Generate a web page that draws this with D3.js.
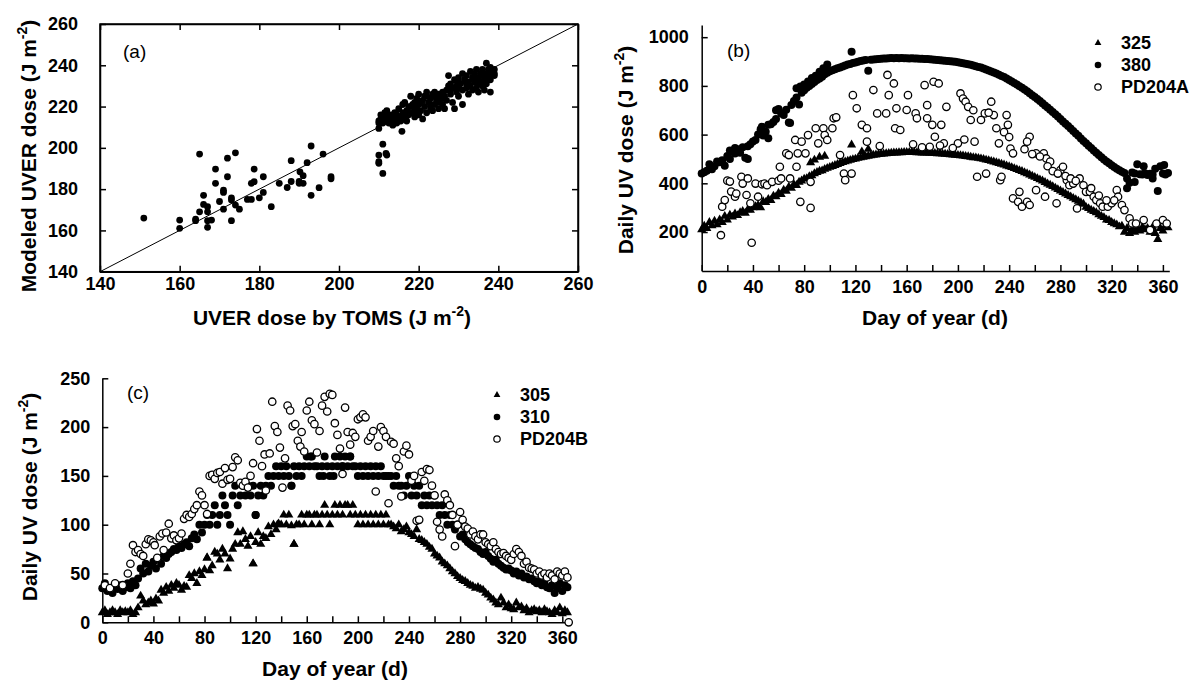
<!DOCTYPE html>
<html>
<head>
<meta charset="utf-8">
<script src="https://cdn.jsdelivr.net/npm/d3@7"></script>
<style>
  body { margin: 0; background: #fff; }
  svg text { font-family: "Liberation Sans", Arial, sans-serif; }
</style>
</head>
<body>
<svg id="chart" width="1194" height="688"></svg>
<script>
// ---------- data ----------
// (a) TOMS vs modeled UVER dose, [toms, modeled]
const uverLow = [[151,166],[160,165],[160,161],[164,165.5],[164,164.7],[165,197],[165,169],[166,177],[166,172.6],
  [167,171.5],[167,169],[167,164.7],[167,161.5],[168,165],[169,189.7],[169,182.8],[170,174],[171,179.5],[171,178.4],
  [171,170.3],[172,195],[172,186],[173,164.7],[173,175.8],[173,174.7],[174,197.6],[174,172.3],[175,170.3],[177,175],
  [178,175],[178,182.8],[178.7,183.6],[178.7,189.7],[180,175.8],[181,178.4],[181,186],[183,171.5],[185,182.8],[187,180.8],
  [188,193.8],[188,183.7],[190,183.7],[190,182.8],[190.2,188.4],[191,186.5],[191,182.8],[192,192.8],[193,200.9],[193,177],
  [195,180.7],[196,197],[198,185],[198,186]];
const uverHigh = [[210,209.4],[211,201.8],[210,196.5],[210,193.3],[210,192.5],[211.8,197.3],[212,196.5],[211,187.6],
  [210,212],[210,213],[210.5,214],[210.5,216],[211,212],[211,215],[211.5,217],[211.5,213],[212,214],[212,218],[212.5,212],
  [213,213],[213,216],[213.5,211],[214,214],[214,217],[214.5,212],[215,215],[215,219],[215.5,213],[215.8,208],[216,216],
  [216,221],[216.5,214],[216.5,222],[217,218],[217,213],[217.5,216],[218,220],[218,225],[218.5,217],[219,215],[219,222],
  [219.5,219],[219.5,224],[220,216],[220,221],[220,226],[220.5,218],[221,214],[221,223],[221.5,220],[222,217],[222,225],
  [222,227],[222.5,222],[223,219],[223,224],[223.5,218],[223.5,226],[224,221],[224,225],[224.5,223],[225,219],[225,226],
  [225,222],[225.5,224],[226,221],[226,227],[226.5,219],[226.5,225],[227,228],[227,223],[227.5,230],[227.5,235],[228,226],
  [228,231],[228.5,222],[228.5,229],[229,219],[229,233],[229.5,227],[229.5,230],[230,225],[230,229],[230,234],[230.5,231],
  [231,221],[231,236],[231,228],[231.5,233],[232,229],[232,235],[232.5,226],[232.5,232],[233,230],[233,237],[233.5,228],
  [233.5,234],[234,232],[234,236],[234.5,229],[234.5,238],[235,231],[235,234],[235,227],[235.5,236],[235.5,232],[236,230],
  [236,235],[236,238],[236.5,233],[236.5,228],[237,236],[237,241],[237,231],[237.5,234],[237.5,238],[238,227],[238,236],
  [238,233],[238.5,237],[239,236],[239,238],[239,235],[212,215],[213.5,215],[214.5,216],[216,217],[217.5,220],[218.5,221],
  [219,218],[220.5,222],[221.5,225],[223,221],[224,227],[226,224],[228,228],[230,232],[232,231],[234,233],[236,236],[238,239]];
const aTicks = [140, 160, 180, 200, 220, 240, 260];

// (b) daily doses, one value every second day from day 0
const b325 = [
  210,225,215,240,226,245,230,250,240,265, 250,270,262,275,268,280,285,278,292,290,
  300,305,310,300,325,322,335,330,348,345, 360,355,372,368,385,380,395,392,405,410,
  418,420,428,432,440,445,450,452,458,462, 466,470,474,478,482,486,489,492,495,498,
  500,503,505,508,510,512,514,516,517,519, 520,521,522,523,524,525,525,526,526,527,
  527,527,528,527,526,526,525,525,525,524, 524,523,522,522,521,520,519,518,517,516,
  515,514,513,511,510,508,506,505,503,501, 499,496,494,491,488,485,482,479,476,472,
  469,465,461,457,453,449,444,440,435,430, 425,420,415,410,404,398,393,387,381,375,
  369,363,357,351,345,339,333,327,321,315, 302,297,290,285,280,272,265,260,250,248,
  240,235,230,222,225,200,215,195,210,200, 215,205,220,210,215,200,220,195,170,215,
  205,225,218];
const b380 = [
  440,445,452,478,458,470,490,486,495,472, 512,500,530,522,540,526,548,505,552,560,
  572,578,600,622,596,612,585,642,652,664, 700,688,680,702,650,722,738,752,724,772,
  782,792,800,808,816,824,830,838,848,854, 860,864,868,872,876,880,884,888,890,894,
  896,899,902,904,906,862,907,908,909,910, 911,912,912,913,914,913,914,913,914,913,
  913,912,913,912,912,911,911,910,910,909, 908,907,906,905,904,903,902,901,900,899,
  897,895,893,891,889,887,884,881,878,875, 871,867,863,859,855,851,846,841,836,830,
  824,818,812,806,799,792,785,778,770,762, 754,746,738,729,720,711,702,693,684,674,
  664,654,645,635,625,615,605,595,584,574, 564,554,545,535,525,516,507,498,490,482,
  474,467,460,454,448,442,420,402,444,440, 478,437,436,441,434,439,436,460,368,470,
  440,436,442];
const b325Extra = [[85,485],[88,496],[92,508],[96,512],[117,558],[130,540],[125,530]];
const b380Extra = [[74,790],[77,798],[80,806],[83,818],[86,832],[89,842],[92,858],[95,872],[98,888],[117,940],
  [69,648],[47,632],[52,640],[58,700],[60,705],[36,500],[22,535],[26,545],[332,380],[338,405],[345,470],[352,420],[361,475]];
const bPD204A = [[15,187],[16,304],[18,331],[20,411],[22,407],[23,366],[26,345],[27,358],[31,427],[32,399],[35,352],
  [36,420],[38,318],[39,156],[42,399],[44,345],[47,396],[49,399],[51,392],[55,406],[60,411],[61,468],[62,420],[66,523],
  [68,516],[69,420],[73,578],[74,468],[75,523],[77,324],[78,571],[81,523],[83,598],[85,406],[85,299],[89,626],[91,564],
  [95,626],[96,598],[98,578],[102,626],[103,667],[105,671],[108,516],[111,440],[112,413],[117,440],[118,762],[121,708],
  [125,640],[129,626],[129,571],[134,783],[137,687],[139,553],[144,687],[145,845],[146,762],[150,810],[151,626],[152,708],
  [155,619],[160,701],[161,762],[167,687],[168,667],[174,803],[176,721],[176,667],[180,640],[181,817],[185,810],[191,714],
  [187,640],[182,591],[178,550],[189,564],[200,564],[202,769],[204,748],[206,735],[208,714],[213,571],[215,427],[221,687],
  [222,440],[226,735],[228,680],[230,626],[232,564],[233,413],[234,427],[238,680],[239,640],[241,543],[243,523],[243,338],
  [247,324],[248,365],[250,304],[254,324],[256,311],[256,591],[254,571],[261,523],[261,372],[268,345],[267,523],[269,502],
  [272,489],[277,318],[280,454],[282,468],[285,413],[287,392],[290,399],[293,297],[295,420],[298,392],[300,365],[303,365],
  [306,345],[308,331],[311,318],[313,304],[317,304],[320,318],[324,372],[325,345],[328,311],[330,290],[334,256],[336,235],
  [339,235],[345,249],[350,208],[355,235],[360,249],[363,235],[165,560],[172,548],[186,555],[196,545],[205,580],[210,660],
  [212,700],[218,660],[224,690],[236,610],[240,590],[252,540],[258,520],[264,510],[270,470],[274,450],[278,440],[284,430],
  [288,420],[292,410],[304,380],[310,350],[316,330],[322,330]];

// (c) daily doses, one value every second day from day 0
const c305 = [
  10,12,8,10,12,10,8,12,10,11, 10,12,8,10,15,27,22,18,20,22,
  19,24,22,33,30,36,32,38,35,40, 38,33,37,36,48,45,50,40,52,48,
  54,66,53,58,72,70,64,75,70,55, 65,75,80,92,80,93,85,78,88,60,
  82,92,80,88,86,98,90,100,95,101, 100,110,100,110,99,80,100,100,110,100,
  110,110,100,110,110,100,110,120,110,100, 110,120,110,120,110,120,120,110,120,110,
  100,110,100,110,100,110,100,110,100,110, 100,110,100,100,98,96,100,93,95,98,
  92,90,88,95,85,84,82,80,77,75, 70,68,66,62,60,58,55,52,50,47,
  45,43,42,40,38,37,35,36,34,33, 30,28,25,23,20,18,25,20,15,18,
  14,13,20,15,16,12,14,10,12,13, 11,12,10,13,11,10,8,12,10,15,
  9,12,10];
const c310 = [
  35,40,32,35,30,36,34,38,32,36, 40,35,42,38,45,55,50,60,52,58,
  62,55,65,60,68,66,70,72,75,74, 78,76,80,82,78,86,90,85,100,92,
  100,110,100,110,120,100,110,130,120,110, 100,130,140,120,130,140,130,140,130,140,
  110,130,140,130,140,150,140,150,160,150, 160,150,160,150,140,160,150,160,150,160,
  170,160,170,160,160,150,160,170,160,150, 160,170,160,170,160,170,160,170,160,160,
  150,160,150,160,150,160,150,160,150,160, 150,150,150,150,140,150,140,140,130,140,
  150,130,140,130,140,120,130,120,130,120, 130,120,110,120,110,100,110,100,95,100,
  88,90,85,82,80,78,76,75,72,70, 72,68,65,62,64,60,58,56,54,55,
  53,50,52,48,50,46,47,44,45,42, 40,42,38,40,36,35,38,30,35,40,
  32,38,36];
const c305Extra = [[150,80],[118,60],[82,66],[137,100]];
const c310Extra = [[148,140],[163,170],[173,150],[181,150],[194,170],[188,160],[120,110]];
const cPD204B = [[2,38],[6,35],[10,40],[16,38],[20,50],[22,60],[24,79],[26,72],[28,74],[30,70],[32,68],[34,80],[36,85],
  [38,84],[40,82],[41,79],[43,66],[45,88],[47,91],[48,74],[50,92],[52,101],[54,86],[56,89],[58,84],[60,86],[62,91],[64,106],
  [66,110],[68,108],[70,111],[72,116],[74,120],[76,134],[78,130],[80,120],[82,111],[84,150],[86,151],[88,147],[90,153],
  [92,154],[94,142],[96,158],[98,146],[100,147],[102,159],[104,169],[106,166],[108,143],[110,140],[112,144],[114,138],
  [116,150],[118,163],[121,198],[123,186],[125,160],[127,172],[128,135],[131,173],[133,226],[135,201],[137,195],[139,179],
  [141,138],[143,168],[145,222],[147,217],[149,201],[151,203],[153,186],[155,180],[156,195],[158,175],[160,217],[162,226],
  [164,207],[166,203],[168,174],[170,196],[172,222],[174,231],[176,216],[178,234],[180,233],[182,204],[184,192],[186,178],
  [188,152],[190,220],[192,195],[194,182],[196,194],[198,190],[200,208],[202,210],[204,213],[206,210],[208,186],[210,190],
  [212,196],[214,134],[216,180],[218,200],[220,196],[222,190],[224,122],[226,185],[228,183],[230,168],[232,160],[234,129],
  [236,175],[238,181],[240,172],[242,145],[244,150],[246,104],[248,105],[250,154],[252,145],[254,157],[256,156],[258,140],
  [260,130],[262,103],[264,95],[266,88],[268,131],[270,125],[272,120],[274,110],[276,78],[278,100],[280,113],[282,105],
  [284,98],[286,96],[288,90],[290,93],[292,88],[294,85],[296,90],[298,90],[300,82],[302,80],[304,78],[306,82],[308,75],
  [310,72],[312,70],[314,71],[316,68],[318,66],[320,64],[322,70],[324,75],[326,72],[328,68],[330,60],[332,62],[334,56],
  [336,55],[338,54],[340,50],[342,52],[344,48],[346,50],[348,46],[350,50],[352,48],[354,44],[356,52],[358,50],[360,48],
  [362,52],[364,46],[365,0]];

const dayTicks = [0,20,40,60,80,100,120,140,160,180,200,220,240,260,280,300,320,340,360];
const bTicks = [200, 400, 600, 800, 1000];
const cTicks = [0, 50, 100, 150, 200, 250];

// ---------- drawing ----------
const svg = d3.select("#chart");
const tri = d3.symbol(d3.symbolTriangle, 36);
const triSmall = d3.symbol(d3.symbolTriangle, 20);
const plain = d3.format("d");

// every-second-day arrays -> [day, value]
const byDay = (vals) => vals.map((v, i) => [i * 2, v]);

function styleAxis(g) {
  g.attr("font-family", null).attr("font-size", null);
  g.selectAll("path, line").attr("stroke", "#000").attr("stroke-width", 1.5);
  g.selectAll("text").attr("fill", "#000").style("font-size", "18px").style("font-weight", "bold");
}

function yTitle(x, y, label) {
  const t = svg.append("text")
    .attr("transform", `translate(${x},${y}) rotate(-90)`)
    .attr("text-anchor", "middle")
    .style("font-size", "21px").style("font-weight", "bold");
  t.append("tspan").text(label + " (J m");
  t.append("tspan").attr("dy", -9).style("font-size", "14px").text("-2");
  t.append("tspan").attr("dy", 9).text(")");
}

function xTitle(x, y, label, sup) {
  const t = svg.append("text").attr("x", x).attr("y", y)
    .attr("text-anchor", "middle")
    .style("font-size", "21px").style("font-weight", "bold");
  if (sup) {
    t.append("tspan").text(label + " (J m");
    t.append("tspan").attr("dy", -9).style("font-size", "14px").text("-2");
    t.append("tspan").attr("dy", 9).text(")");
  } else {
    t.text(label);
  }
}

function panelTag(x, y, s) {
  svg.append("text").attr("x", x).attr("y", y).style("font-size", "19px").text(s);
}

function drawTri(g, pts, x, y) {
  g.selectAll(null).data(pts).join("path")
    .attr("d", tri)
    .attr("transform", d => `translate(${x(d[0])},${y(d[1])})`)
    .attr("fill", "#000");
}
function drawDot(g, pts, x, y) {
  g.selectAll(null).data(pts).join("circle")
    .attr("cx", d => x(d[0])).attr("cy", d => y(d[1]))
    .attr("r", 4).attr("fill", "#000");
}
function drawRing(g, pts, x, y) {
  g.selectAll(null).data(pts).join("circle")
    .attr("cx", d => x(d[0])).attr("cy", d => y(d[1]))
    .attr("r", 3.7).attr("fill", "#fff").attr("stroke", "#000").attr("stroke-width", 1.3);
}

function legend(x, y0, names) {
  const g = svg.append("g");
  names.forEach((n, i) => {
    const y = y0 + i * 22;
    if (i === 0) g.append("path").attr("d", triSmall).attr("transform", `translate(${x},${y})`).attr("fill", "#000");
    if (i === 1) g.append("circle").attr("cx", x).attr("cy", y).attr("r", 3.3).attr("fill", "#000");
    if (i === 2) g.append("circle").attr("cx", x).attr("cy", y).attr("r", 3.2).attr("fill", "#fff")
      .attr("stroke", "#000").attr("stroke-width", 1.2);
    g.append("text").attr("x", x + 23).attr("y", y).attr("dy", "0.36em")
      .style("font-size", "18px").style("font-weight", "bold").text(n);
  });
}

// ----- panel (a) -----
const xa = d3.scaleLinear().domain([140, 260]).range([100, 578]);
const ya = d3.scaleLinear().domain([140, 260]).range([271.7, 24]);

svg.append("rect").attr("x", xa(140)).attr("y", ya(260))
  .attr("width", xa(260) - xa(140)).attr("height", ya(140) - ya(260))
  .attr("fill", "none").attr("stroke", "#000").attr("stroke-width", 1.5);

svg.append("g").attr("transform", `translate(0,${ya(140)})`)
  .call(d3.axisBottom(xa).tickValues(aTicks).tickFormat(plain).tickSize(-6).tickPadding(6).tickSizeOuter(0)).call(styleAxis);
svg.append("g").attr("transform", `translate(0,${ya(260)})`)
  .call(d3.axisTop(xa).tickValues(aTicks).tickSize(-6).tickFormat("").tickSizeOuter(0)).call(styleAxis);
svg.append("g").attr("transform", `translate(${xa(140)},0)`)
  .call(d3.axisLeft(ya).tickValues(aTicks).tickFormat(plain).tickSize(-6).tickPadding(22).tickSizeOuter(0)).call(styleAxis);
svg.append("g").attr("transform", `translate(${xa(260)},0)`)
  .call(d3.axisRight(ya).tickValues(aTicks).tickSize(-6).tickFormat("").tickSizeOuter(0)).call(styleAxis);

svg.append("line")
  .attr("x1", xa(140)).attr("y1", ya(140)).attr("x2", xa(260)).attr("y2", ya(260))
  .attr("stroke", "#000").attr("stroke-width", 1);

const ga = svg.append("g");
ga.selectAll("circle").data(uverLow.concat(uverHigh)).join("circle")
  .attr("cx", d => xa(d[0])).attr("cy", d => ya(d[1])).attr("r", 3.4).attr("fill", "#000");

panelTag(123, 58, "(a)");
yTitle(36, 156, "Modeled UVER dose");
xTitle(332, 325, "UVER dose by TOMS", true);

// ----- panel (b) -----
const xb = d3.scaleLinear().domain([0, 365]).range([701.7, 1169.3]);
const yb = d3.scaleLinear().domain([40, 1050]).range([271, 25]);

svg.append("g").attr("transform", `translate(0,${yb(40)})`)
  .call(d3.axisBottom(xb).tickValues(dayTicks).tickFormat(d => d % 40 === 0 ? plain(d) : "")
    .tickSize(-6).tickPadding(9).tickSizeOuter(0)).call(styleAxis);
svg.append("g").attr("transform", `translate(${xb(0)},0)`)
  .call(d3.axisLeft(yb).tickValues(bTicks).tickFormat(plain).tickSize(-6).tickPadding(13).tickSizeOuter(0)).call(styleAxis);

const gb = svg.append("g");
drawTri(gb, byDay(b325).concat(b325Extra), xb, yb);
drawDot(gb, byDay(b380).concat(b380Extra), xb, yb);
drawRing(gb, bPD204A, xb, yb);

panelTag(727, 57, "(b)");
legend(1098, 43, ["325", "380", "PD204A"]);
yTitle(633, 150, "Daily UV dose");
xTitle(935, 325, "Day of year (d)", false);

// ----- panel (c) -----
const xc = d3.scaleLinear().domain([0, 365]).range([102.3, 568.7]);
const yc = d3.scaleLinear().domain([0, 250]).range([622.3, 378.3]);

svg.append("g").attr("transform", `translate(0,${yc(0)})`)
  .call(d3.axisBottom(xc).tickValues(dayTicks).tickFormat(d => d % 40 === 0 ? plain(d) : "")
    .tickSize(-6).tickPadding(9).tickSizeOuter(0)).call(styleAxis);
svg.append("g").attr("transform", `translate(${xc(0)},0)`)
  .call(d3.axisLeft(yc).tickValues(cTicks).tickFormat(plain).tickSize(-6).tickPadding(12).tickSizeOuter(0)).call(styleAxis);

const gc = svg.append("g");
drawTri(gc, byDay(c305).concat(c305Extra), xc, yc);
drawDot(gc, byDay(c310).concat(c310Extra), xc, yc);
drawRing(gc, cPD204B, xc, yc);

panelTag(127, 399, "(c)");
legend(497, 395, ["305", "310", "PD204B"]);
yTitle(37, 497, "Daily UV dose");
xTitle(335, 676, "Day of year (d)", false);
</script>
</body>
</html>
